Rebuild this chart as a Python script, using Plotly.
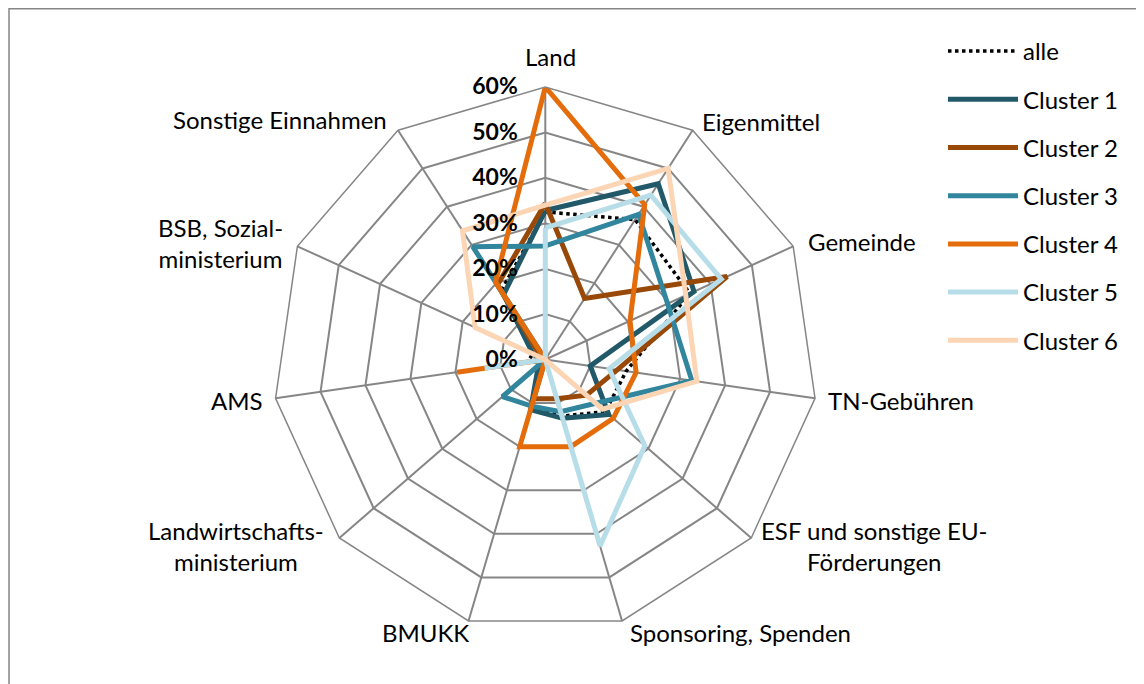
import plotly.graph_objects as go

categories = ["Land", "Eigenmittel", "Gemeinde", "TN-Gebühren",
              "ESF und sonstige EU-<br>Förderungen", "Sponsoring, Spenden", "BMUKK",
              "Landwirtschafts-<br>ministerium", "AMS", "BSB, Sozial-<br>ministerium",
              "Sonstige Einnahmen"]

alle      = [32.5, 36.6, 35.0, 18.0, 17.5, 13.0, 11.0, 1.0, 4.0, 3.0, 18.0]
cluster_1 = [32.8, 46.0, 36.0, 10.0, 18.5, 13.5, 11.5, 2.0, 1.0, 3.0, 17.0]
cluster_2 = [34.4, 16.0, 44.0, 16.0, 12.0, 9.0, 9.0, 0.0, 0.0, 1.0, 19.5]
cluster_3 = [25.0, 38.0, 29.6, 32.6, 14.7, 12.0, 10.7, 12.5, 0.0, 0.0, 29.5]
cluster_4 = [60.0, 40.5, 20.5, 20.2, 19.8, 20.0, 20.0, 0.0, 19.6, 0.0, 20.3]
cluster_5 = [29.0, 43.0, 42.6, 14.2, 29.0, 42.8, 0.0, 0.0, 13.5, 0.0, 0.0]
cluster_6 = [34.0, 50.0, 34.0, 33.7, 16.7, 0.0, 0.0, 0.0, 0.0, 17.0, 33.7]

series_names = ["alle", "Cluster 1", "Cluster 2", "Cluster 3", "Cluster 4", "Cluster 5", "Cluster 6"]
series_values = [alle, cluster_1, cluster_2, cluster_3, cluster_4, cluster_5, cluster_6]
series_colors = ["#000000", "#215968", "#984807", "#31859C", "#E46C0A", "#B7DEE8", "#FCD5B5"]
series_dash = ["dot", "solid", "solid", "solid", "solid", "solid", "solid"]

radial_ticks = [0, 10, 20, 30, 40, 50, 60]
NBSP = "\u00a0"
radial_labels = ["<b>%d%%</b>%s" % (v, NBSP * 4) for v in radial_ticks]

# layout: page body has an 8px margin, so the figure is drawn 8px in
W, H = 1136, 676
OFF = 8
CX, CY, R = 537.3, 351.5, 272.5
# category label centres (screen pixels), one per category
label_pos = [(550, 57), (761, 121), (862, 241), (901, 400), (874, 546),
             (741, 632), (425, 632), (236, 546), (237, 400), (220, 243), (280, 120)]

FONT = "Lato"

fig = go.Figure()
for name, vals, col, dash in zip(series_names, series_values, series_colors, series_dash):
    fig.add_trace(go.Scatterpolar(
        r=vals + vals[:1],
        theta=categories + categories[:1],
        mode="lines",
        name=name,
        line=dict(color=col, width=3.5 if dash == "dot" else 5, dash=dash),
        legendgroup=name,
    ))

annotations = []
for cat, (px, py) in zip(categories, label_pos):
    annotations.append(dict(
        text=cat, xref="paper", yref="paper",
        x=(px - OFF) / W, y=1 - (py - OFF) / H,
        xanchor="center", yanchor="middle", align="center",
        showarrow=False, font=dict(family=FONT, size=24, color="#000000"),
    ))

fig.update_layout(
    width=W, height=H,
    margin=dict(l=0, r=0, t=0, b=0),
    paper_bgcolor="white",
    plot_bgcolor="white",
    font=dict(family=FONT, size=24, color="#000000"),
    polar=dict(
        domain=dict(x=[(CX - R) / W, (CX + R) / W],
                    y=[(H - CY - R) / H, (H - CY + R) / H]),
        gridshape="linear",
        bgcolor="white",
        angularaxis=dict(
            rotation=90, direction="clockwise",
            showline=True, linecolor="#868686", linewidth=1.5,
            gridcolor="#868686", gridwidth=1.5,
            ticks="", showticklabels=False,
        ),
        radialaxis=dict(
            range=[0, 60], angle=90, tickangle=90,
            tickvals=radial_ticks, ticktext=radial_labels,
            side="counterclockwise",
            showline=False, ticks="",
            gridcolor="#868686", gridwidth=1.5,
            tickfont=dict(family=FONT, size=23, color="#000000"),
        ),
    ),
    legend=dict(
        x=935 / W, y=1 - 21 / H, xanchor="left", yanchor="top",
        font=dict(family=FONT, size=24),
        tracegroupgap=14, itemwidth=70,
        bgcolor="rgba(0,0,0,0)",
    ),
    annotations=annotations,
    shapes=[dict(type="rect", xref="paper", yref="paper",
                 x0=1 / W, x1=1132 / W, y0=-0.02, y1=1 - 0.8 / H,
                 line=dict(color="#868686", width=1.5))],
)

fig.write_html("out.html")
